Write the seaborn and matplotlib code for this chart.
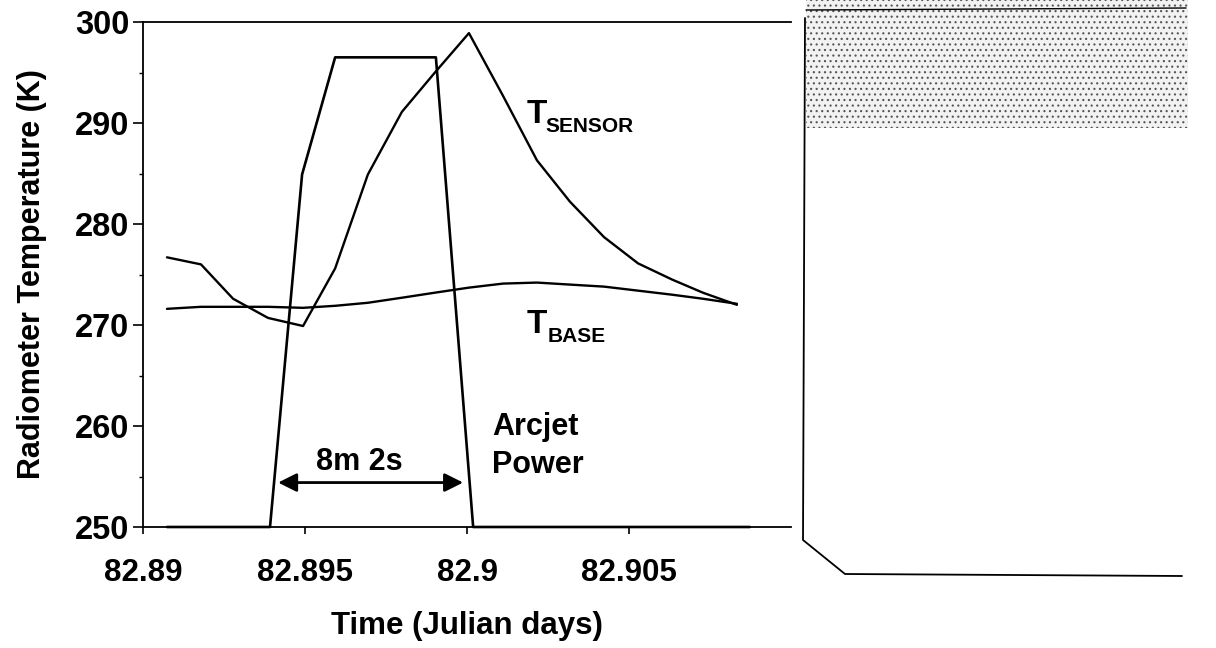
import matplotlib
matplotlib.use("Agg")
import matplotlib.pyplot as plt
import seaborn as sns
import pandas as pd
from matplotlib.patches import Rectangle
from matplotlib.lines import Line2D

# ---- data ----
time_sensor = [82.89074, 82.89179, 82.89278, 82.89386, 82.89494, 82.89593,
               82.89694, 82.89799, 82.89901, 82.90006, 82.90111, 82.90216,
               82.90318, 82.90423, 82.90528, 82.90633, 82.90728, 82.90833]
t_sensor = [276.7, 276.0, 272.6, 270.7, 269.9, 275.6, 284.9, 291.1, 295.0,
            298.9, 292.7, 286.3, 282.2, 278.7, 276.1, 274.5, 273.2, 272.0]
t_base = [271.6, 271.8, 271.8, 271.8, 271.7, 271.9, 272.2, 272.7, 273.2,
          273.7, 274.1, 274.2, 274.0, 273.8, 273.4, 273.0, 272.6, 272.1]
time_power = [82.89074, 82.89392, 82.89491, 82.89593, 82.89904, 82.90019, 82.90873]
arcjet_power = [250, 250, 284.9, 296.5, 296.5, 250, 250]

x_ticks = [82.89, 82.895, 82.9, 82.905]
x_tick_labels = ["82.89", "82.895", "82.9", "82.905"]
y_ticks = [250, 260, 270, 280, 290, 300]
y_minor_ticks = [255, 265, 275, 285, 295]

sns.set_theme(style="ticks")
plt.rcParams["font.family"] = ["Liberation Sans", "DejaVu Sans"]
plt.rcParams["font.weight"] = "bold"
plt.rcParams["text.color"] = "black"
plt.rcParams["axes.labelcolor"] = "black"
plt.rcParams["xtick.color"] = "black"
plt.rcParams["ytick.color"] = "black"
plt.rcParams["hatch.linewidth"] = 0.8

fig = plt.figure(figsize=(12.16, 6.48), dpi=100)
fig.patch.set_facecolor("white")
ax = fig.add_axes([143 / 1216, 121 / 648, 648 / 1216, 505 / 648])
ax.set_facecolor("white")

df_s = pd.DataFrame({"t": time_sensor, "sensor": t_sensor, "base": t_base})
df_p = pd.DataFrame({"t": time_power, "power": arcjet_power})

sns.lineplot(data=df_s, x="t", y="sensor", sort=False, estimator=None,
             color="black", lw=1.7, ax=ax)
sns.lineplot(data=df_s, x="t", y="base", sort=False, estimator=None,
             color="black", lw=1.7, ax=ax)
sns.lineplot(data=df_p, x="t", y="power", sort=False, estimator=None,
             color="black", lw=1.9, ax=ax, clip_on=False)

ax.set_xlim(82.89, 82.91)
ax.set_ylim(250, 300)
ax.set_xticks(x_ticks)
ax.set_xticklabels(x_tick_labels)
ax.set_yticks(y_ticks)
ax.set_yticks(y_minor_ticks, minor=True)

for s in ["left", "bottom", "top"]:
    ax.spines[s].set_visible(True)
    ax.spines[s].set_color("black")
    ax.spines[s].set_linewidth(1.3)
ax.spines["right"].set_visible(False)

ax.tick_params(axis="x", which="major", direction="out", length=5, width=1.2,
               pad=17, labelsize=22.5, colors="black")
ax.tick_params(axis="y", which="major", direction="out", length=7, width=1.2,
               pad=3, labelsize=23.5, colors="black")
ax.tick_params(axis="y", which="minor", direction="out", length=3, width=1.0)
for lab in ax.get_xticklabels() + ax.get_yticklabels():
    lab.set_fontweight("bold")

ax.set_xlabel("Time (Julian days)", fontsize=22.5, fontweight="bold",
              labelpad=17, color="black")
ax.set_ylabel("Radiometer Temperature (K)", fontsize=22, fontweight="bold",
              labelpad=20, color="black")

# ---- annotations ----
kw = dict(fontweight="bold", color="black", va="baseline")
ax.text(82.90185, 290.0, "T", fontsize=24, ha="left", **kw)
ax.text(82.90243, 289.1, "SENSOR", fontsize=15, ha="left", **kw)
ax.text(82.90185, 269.2, "T", fontsize=24, ha="left", **kw)
ax.text(82.90249, 268.3, "BASE", fontsize=15, ha="left", **kw)
ax.text(82.90077, 259.1, "Arcjet", fontsize=22, ha="left", **kw)
ax.text(82.90077, 255.3, "Power", fontsize=22, ha="left", **kw)
ax.text(82.89667, 255.6, "8m 2s", fontsize=22, ha="center", **kw)
ax.annotate("", xy=(82.89417, 254.4), xytext=(82.89988, 254.4),
            arrowprops=dict(arrowstyle="<|-|>", color="black", lw=2.0,
                            mutation_scale=28, shrinkA=0, shrinkB=0))

# ---- scanned neighbouring panel (frame and speckled strip) ----
W, H = 1216.0, 648.0
def fx(px):
    return px / W
def fy(py):
    return 1 - py / H

fig.add_artist(Rectangle((fx(806), fy(128)), fx(1188) - fx(806), fy(0) - fy(128),
                         transform=fig.transFigure, facecolor="#f2f2f2",
                         edgecolor="#555555", hatch="...", lw=0))
fig.add_artist(Line2D([fx(805), fx(803), fx(845), fx(1182)],
                      [fy(18), fy(540), fy(574), fy(576)],
                      transform=fig.transFigure, color="black", lw=1.3))
fig.add_artist(Line2D([fx(806), fx(1186)], [fy(10), fy(8)],
                      transform=fig.transFigure, color="black", lw=1.0))

fig.savefig("out.png", dpi=100, facecolor="white")
